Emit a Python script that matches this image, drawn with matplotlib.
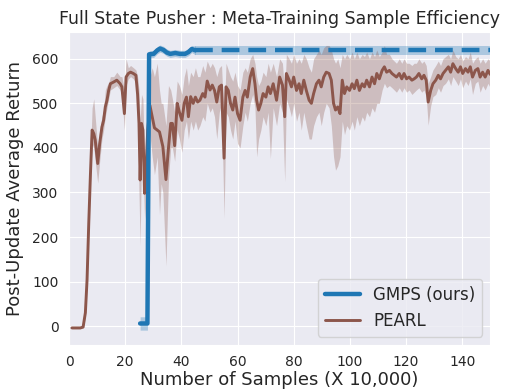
import numpy as np
import matplotlib
matplotlib.use("Agg")
import matplotlib.pyplot as plt
import seaborn as sns

# PEARL: mean return and shaded band
pearl_x = [1, 2, 3, 4, 5, 5.8, 6.4, 7.0, 7.6, 8.2, 8.8, 9.3, 10.2, 10.9, 11.7, 12.3, 12.9, 13.5, 14.1, 14.7,
           15.9, 17.0, 18.2, 18.8, 19.7, 20.3, 21.1, 21.9, 22.9, 23.8, 24.4, 24.9, 25.3, 25.8, 26.3, 26.9, 27.5, 28.0, 28.8, 29.6,
           30.4, 31.4, 32.2, 32.8, 33.4, 34.5, 35.4, 36.2, 36.8, 37.6, 38.5, 39.3, 40.2, 41.0, 41.8, 42.5, 43.3, 44.2, 45.0, 45.8,
           46.6, 47.6, 48.4, 49.2, 50.2, 51.0, 51.8, 52.6, 53.5, 54.3, 55.2, 55.9, 56.7, 57.5, 58.3, 59.1, 60.0, 60.9, 61.9, 62.7,
           63.5, 64.5, 65.4, 66.2, 66.8, 67.5, 68.3, 69.1, 70.1, 70.9, 71.7, 72.7, 73.9, 75.0, 76.0, 76.8, 77.4, 78.4, 79.2, 80.0,
           81.0, 81.9, 82.7, 83.6, 84.5, 85.5, 86.3, 87.1, 88.1, 89.0, 89.8, 90.7, 91.6, 92.6, 93.4, 94.2, 94.9, 95.7, 96.5, 97.3,
           98.1, 98.9, 99.9, 100.8, 101.6, 102.5, 103.4, 104.4, 105.2, 106.0, 107.0, 107.9, 108.8, 109.6, 110.5, 111.5, 112.3, 113.1, 114.1, 115.0,
           115.8, 116.6, 117.6, 118.5, 119.3, 120.2, 121.1, 122.1, 122.9, 123.7, 124.6, 125.6, 126.4, 127.2, 127.9, 128.8, 129.6, 130.6, 131.5, 132.3,
           133.2, 134.1, 135.1, 135.9, 136.7, 137.7, 138.6, 139.4, 140.2, 141.2, 142.1, 142.9, 143.7, 144.7, 145.6, 146.4, 147.3, 148.2, 149.2, 150]
pearl_mean = [-4, -4, -4, -4, -2, 30, 104, 230, 340, 440, 432, 418, 365, 410, 447, 462, 492, 507, 529, 544,
              548, 552, 544, 537, 477, 559, 567, 570, 567, 563, 520, 455, 328, 455, 440, 298, 365, 440, 495, 470,
              445, 440, 436, 420, 403, 329, 400, 455, 455, 405, 500, 480, 462, 500, 514, 470, 515, 500, 514, 503,
              507, 522, 514, 550, 530, 541, 529, 503, 537, 541, 377, 537, 529, 500, 485, 514, 477, 462, 514, 529,
              514, 559, 578, 544, 507, 485, 500, 522, 514, 537, 522, 544, 507, 559, 541, 470, 567, 552, 537, 559,
              529, 544, 522, 552, 529, 507, 500, 522, 544, 552, 537, 559, 570, 567, 552, 500, 485, 492, 477, 552,
              522, 537, 529, 544, 533, 552, 529, 544, 537, 552, 537, 559, 544, 567, 555, 574, 582, 570, 574, 567,
              563, 559, 567, 555, 567, 555, 559, 552, 555, 559, 567, 555, 563, 552, 503, 529, 544, 552, 563, 555,
              567, 574, 582, 570, 589, 578, 570, 582, 567, 578, 570, 582, 559, 574, 578, 559, 570, 559, 574, 565]
pearl_lo = [-6, -6, -6, -6, -4, 20, 94, 215, 320, 410, 400, 370, 321, 370, 420, 440, 470, 490, 510, 530,
            535, 540, 530, 515, 440, 540, 555, 560, 555, 545, 470, 300, 180, 380, 350, 240, 290, 380, 430, 380,
            340, 380, 250, 320, 300, 135, 330, 400, 400, 370, 440, 420, 390, 440, 460, 420, 460, 440, 460, 440,
            450, 470, 460, 500, 480, 490, 470, 420, 480, 500, 242, 480, 470, 440, 420, 460, 410, 400, 450, 480,
            460, 500, 520, 490, 380, 420, 440, 470, 450, 480, 376, 490, 450, 500, 480, 324, 510, 490, 470, 500,
            460, 480, 440, 480, 450, 420, 420, 450, 470, 480, 450, 480, 500, 490, 450, 380, 350, 360, 380, 460,
            430, 450, 440, 460, 440, 470, 450, 470, 460, 480, 470, 490, 480, 500, 500, 530, 545, 535, 540, 535,
            530, 525, 535, 525, 535, 525, 530, 520, 525, 530, 535, 525, 530, 515, 451, 495, 515, 520, 535, 525,
            540, 545, 555, 540, 560, 550, 540, 555, 535, 550, 540, 555, 520, 545, 550, 525, 540, 530, 545, 535]
pearl_hi = [-2, -2, -2, -2, 0, 40, 114, 245, 380, 490, 510, 470, 400, 440, 470, 485, 530, 540, 545, 560,
            560, 570, 560, 560, 530, 600, 580, 585, 580, 575, 560, 530, 460, 520, 510, 360, 450, 510, 560, 580,
            560, 590, 530, 500, 500, 450, 540, 530, 510, 480, 550, 540, 520, 560, 580, 540, 570, 560, 580, 560,
            560, 585, 570, 595, 580, 590, 580, 560, 580, 585, 460, 590, 575, 560, 550, 570, 540, 530, 570, 580,
            570, 600, 610, 590, 560, 540, 550, 570, 560, 590, 570, 590, 560, 600, 590, 520, 610, 600, 590, 610,
            590, 600, 590, 610, 600, 580, 570, 600, 610, 620, 610, 625, 630, 630, 620, 600, 590, 600, 580, 610,
            600, 610, 600, 615, 600, 615, 600, 610, 605, 615, 600, 615, 605, 620, 605, 615, 630, 610, 610, 600,
            595, 590, 600, 590, 600, 590, 590, 585, 590, 590, 600, 590, 595, 585, 545, 560, 575, 585, 595, 585,
            600, 605, 610, 600, 620, 605, 600, 610, 595, 605, 600, 615, 590, 600, 605, 590, 600, 590, 600, 595]

# GMPS (ours): measured curve, then final value carried forward
gmps_x = [25.3, 26.5, 27.9, 28.5, 30.1, 31.4, 32.4, 33.6, 34.8, 36.0, 37.8, 39.5, 41.3, 42.5, 43.7, 44.9]
gmps_mean = [6, 6, 6, 610, 611, 619, 623, 620, 614, 611, 613, 611, 611, 615, 622, 619]
gmps_std = [15, 15, 15, 8, 8, 8, 8, 8, 8, 8, 8, 8, 8, 8, 8, 10]
gmps_final = 619
gmps_final_std = 10
x_end = 150

sns.set_style("darkgrid")
plt.rcParams['font.family'] = ['DejaVu Sans']

fig = plt.figure(figsize=(5.08, 3.91), dpi=100)
ax = fig.add_axes([0.136, 0.118, 0.829, 0.800])

blue = "#1f77b4"
brown = "#8c564b"

gx = np.array(gmps_x)
gm = np.array(gmps_mean)
gs = np.array(gmps_std)
ax.fill_between(gx, gm - gs, gm + gs, color=blue, alpha=0.3, lw=0)
ax.plot(gx, gm, color=blue, lw=3.2, label="GMPS (ours)", zorder=4)
ax.fill_between([gx[-1], x_end], gmps_final - gmps_final_std, gmps_final + gmps_final_std,
                color=blue, alpha=0.3, lw=0)
ax.plot([gx[-1], x_end], [gmps_final, gmps_final], color=blue, lw=3.2,
        dashes=(4, 2), zorder=4)

ax.fill_between(pearl_x, pearl_lo, pearl_hi, color=brown, alpha=0.3, lw=0)
ax.plot(pearl_x, pearl_mean, color=brown, lw=2.1, label="PEARL", zorder=3)

ax.set_xlim(0, 150)
ax.set_ylim(-42, 660)
ax.set_xticks(range(0, 150, 20))
ax.set_yticks(range(0, 700, 100))
ax.tick_params(labelsize=10, pad=4)
ax.set_xlabel("Number of Samples (X 10,000)", fontsize=13, labelpad=1)
ax.set_ylabel("Post-Update Average Return", fontsize=13, labelpad=6)
ax.set_title("Full State Pusher : Meta-Training Sample Efficiency", fontsize=12.5, pad=6)
ax.legend(loc="lower right", fontsize=12, handlelength=2.1)

fig.savefig("out.png", dpi=100)
